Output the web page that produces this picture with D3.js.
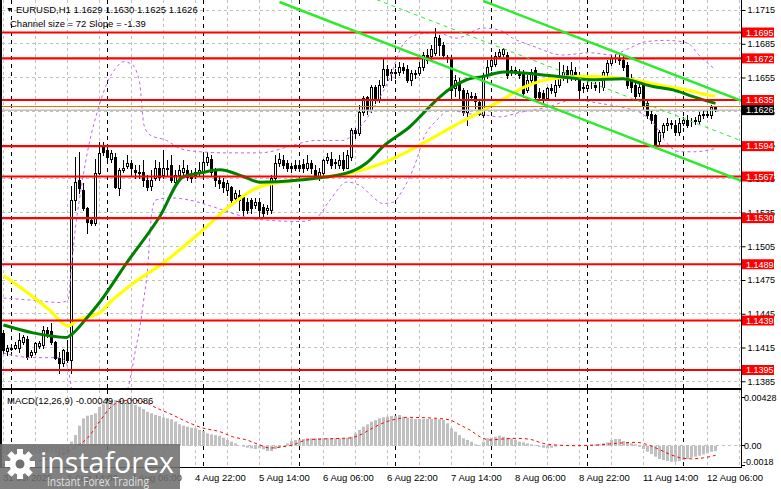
<!DOCTYPE html>
<html><head><meta charset="utf-8">
<script src="https://cdn.jsdelivr.net/npm/d3@7"></script>
<style>
html,body{margin:0;padding:0;background:#fff}
svg{display:block;font-family:"Liberation Sans",Arial,sans-serif}
</style>
</head><body>
<svg id="c" width="781" height="489"></svg>
<script>
// ---------------- DATA ----------------
const symbolTitle = "EURUSD,H1";
const channelText = "Channel size = 72 Slope = -1.39";
const open = [1.1428,1.1412,1.1414,1.1415,1.1415,1.1420,1.1423,1.1408,1.1411,1.1416,
1.1417,1.1431,1.1430,1.1420,1.1406,1.1401,1.1411,1.1404,1.1546,1.1564,
1.1555,1.1539,1.1528,1.1526,1.1570,1.1595,1.1591,1.1583,1.1584,1.1557,
1.1573,1.1576,1.1579,1.1573,1.1571,1.1571,1.1564,1.1559,1.1566,1.1575,
1.1568,1.1575,1.1577,1.1562,1.1568,1.1571,1.1573,1.1567,1.1568,1.1571,
1.1571,1.1580,1.1583,1.1573,1.1564,1.1562,1.1555,1.1558,1.1548,1.1551,
1.1549,1.1544,1.1546,1.1542,1.1544,1.1540,1.1537,1.1537,1.1566,1.1579,
1.1582,1.1579,1.1576,1.1577,1.1577,1.1578,1.1575,1.1579,1.1573,1.1567,
1.1570,1.1582,1.1583,1.1580,1.1577,1.1582,1.1575,1.1584,1.1608,1.1606,
1.1624,1.1638,1.1626,1.1647,1.1635,1.1648,1.1663,1.1659,1.1659,1.1660,
1.1664,1.1663,1.1653,1.1658,1.1659,1.1664,1.1675,1.1674,1.1677,1.1690,
1.1684,1.1673,1.1672,1.1646,1.1650,1.1644,1.1624,1.1639,1.1639,1.1633,
1.1622,1.1657,1.1665,1.1667,1.1674,1.1676,1.1675,1.1660,1.1661,1.1660,
1.1660,1.1644,1.1653,1.1662,1.1642,1.1641,1.1637,1.1646,1.1642,1.1648,
1.1655,1.1662,1.1655,1.1660,1.1655,1.1646,1.1646,1.1648,1.1648,1.1647,
1.1647,1.1660,1.1668,1.1672,1.1672,1.1671,1.1666,1.1655,1.1648,1.1641,
1.1648,1.1632,1.1623,1.1622,1.1599,1.1607,1.1613,1.1614,1.1613,1.1607,
1.1615,1.1617,1.1615,1.1616,1.1616,1.1622,1.1622,1.1622,1.1629];
const high = [1.1431,1.1417,1.1417,1.1420,1.1428,1.1426,1.1425,1.1413,1.1420,1.1421,
1.1434,1.1433,1.1437,1.1421,1.1411,1.1414,1.1422,1.1559,1.1584,1.1589,
1.1561,1.1540,1.1530,1.1583,1.1598,1.1598,1.1595,1.1591,1.1588,1.1575,
1.1582,1.1586,1.1582,1.1577,1.1577,1.1582,1.1568,1.1573,1.1582,1.1580,
1.1591,1.1582,1.1586,1.1573,1.1577,1.1582,1.1577,1.1573,1.1575,1.1580,
1.1586,1.1589,1.1586,1.1575,1.1567,1.1566,1.1564,1.1559,1.1555,1.1555,
1.1551,1.1548,1.1548,1.1548,1.1548,1.1543,1.1542,1.1568,1.1586,1.1588,
1.1586,1.1582,1.1579,1.1582,1.1580,1.1583,1.1586,1.1582,1.1577,1.1575,
1.1583,1.1588,1.1589,1.1583,1.1586,1.1589,1.1591,1.1610,1.1610,1.1631,
1.1639,1.1639,1.1648,1.1648,1.1653,1.1672,1.1666,1.1663,1.1663,1.1669,
1.1668,1.1666,1.1662,1.1662,1.1669,1.1678,1.1680,1.1684,1.1699,1.1693,
1.1687,1.1675,1.1675,1.1657,1.1655,1.1646,1.1644,1.1642,1.1641,1.1635,
1.1659,1.1671,1.1675,1.1678,1.1680,1.1681,1.1678,1.1665,1.1664,1.1663,
1.1662,1.1657,1.1663,1.1664,1.1646,1.1644,1.1647,1.1649,1.1653,1.1669,
1.1666,1.1665,1.1669,1.1664,1.1660,1.1650,1.1653,1.1651,1.1651,1.1651,
1.1662,1.1671,1.1675,1.1676,1.1675,1.1674,1.1669,1.1658,1.1650,1.1649,
1.1651,1.1635,1.1626,1.1623,1.1608,1.1615,1.1619,1.1617,1.1617,1.1619,
1.1620,1.1622,1.1619,1.1620,1.1624,1.1626,1.1626,1.1631,1.1630];
const low = [1.1410,1.1408,1.1413,1.1414,1.1411,1.1418,1.1405,1.1407,1.1409,1.1415,
1.1415,1.1424,1.1418,1.1405,1.1392,1.1399,1.1402,1.1392,1.1537,1.1552,
1.1537,1.1517,1.1524,1.1524,1.1569,1.1586,1.1582,1.1580,1.1557,1.1551,
1.1571,1.1575,1.1568,1.1566,1.1566,1.1559,1.1555,1.1555,1.1564,1.1564,
1.1566,1.1568,1.1562,1.1559,1.1566,1.1568,1.1564,1.1562,1.1566,1.1568,
1.1568,1.1577,1.1568,1.1559,1.1557,1.1553,1.1551,1.1542,1.1544,1.1537,
1.1533,1.1535,1.1535,1.1539,1.1530,1.1532,1.1534,1.1535,1.1564,1.1576,
1.1575,1.1572,1.1571,1.1573,1.1572,1.1571,1.1573,1.1570,1.1566,1.1564,
1.1567,1.1579,1.1575,1.1575,1.1575,1.1573,1.1575,1.1582,1.1601,1.1604,
1.1622,1.1623,1.1624,1.1632,1.1633,1.1647,1.1653,1.1653,1.1655,1.1657,
1.1659,1.1651,1.1648,1.1655,1.1657,1.1662,1.1668,1.1671,1.1675,1.1675,
1.1672,1.1669,1.1635,1.1639,1.1637,1.1622,1.1613,1.1635,1.1628,1.1622,
1.1620,1.1655,1.1662,1.1665,1.1672,1.1674,1.1655,1.1657,1.1658,1.1655,
1.1638,1.1642,1.1651,1.1635,1.1635,1.1632,1.1635,1.1641,1.1639,1.1647,
1.1653,1.1651,1.1653,1.1653,1.1637,1.1642,1.1644,1.1646,1.1644,1.1642,
1.1644,1.1657,1.1666,1.1669,1.1667,1.1662,1.1646,1.1642,1.1635,1.1639,
1.1626,1.1619,1.1615,1.1592,1.1594,1.1602,1.1608,1.1610,1.1604,1.1604,
1.1613,1.1611,1.1612,1.1614,1.1615,1.1619,1.1620,1.1619,1.1625];
const close = [1.1413,1.1415,1.1415,1.1417,1.1422,1.1424,1.1407,1.1411,1.1419,1.1419,
1.1431,1.1428,1.1420,1.1406,1.1401,1.1413,1.1404,1.1546,1.1562,1.1557,
1.1539,1.1527,1.1526,1.1570,1.1588,1.1589,1.1584,1.1588,1.1558,1.1573,
1.1575,1.1579,1.1575,1.1571,1.1570,1.1564,1.1558,1.1564,1.1575,1.1567,
1.1575,1.1574,1.1564,1.1568,1.1573,1.1575,1.1567,1.1566,1.1571,1.1573,
1.1580,1.1584,1.1571,1.1564,1.1561,1.1558,1.1561,1.1546,1.1552,1.1546,
1.1537,1.1537,1.1539,1.1544,1.1537,1.1535,1.1539,1.1566,1.1579,1.1583,
1.1577,1.1575,1.1575,1.1575,1.1575,1.1575,1.1579,1.1575,1.1568,1.1571,
1.1582,1.1584,1.1577,1.1579,1.1582,1.1575,1.1586,1.1608,1.1606,1.1624,
1.1637,1.1626,1.1647,1.1635,1.1648,1.1663,1.1657,1.1660,1.1660,1.1664,
1.1662,1.1653,1.1659,1.1659,1.1664,1.1675,1.1671,1.1680,1.1691,1.1684,
1.1675,1.1672,1.1644,1.1653,1.1644,1.1624,1.1641,1.1638,1.1634,1.1623,
1.1657,1.1664,1.1671,1.1674,1.1678,1.1680,1.1657,1.1662,1.1662,1.1657,
1.1641,1.1653,1.1660,1.1638,1.1638,1.1635,1.1646,1.1644,1.1648,1.1655,
1.1660,1.1655,1.1662,1.1655,1.1644,1.1647,1.1648,1.1648,1.1647,1.1647,
1.1660,1.1668,1.1672,1.1672,1.1671,1.1664,1.1648,1.1647,1.1639,1.1647,
1.1631,1.1622,1.1617,1.1593,1.1607,1.1613,1.1615,1.1615,1.1607,1.1615,
1.1617,1.1613,1.1615,1.1617,1.1622,1.1623,1.1623,1.1629,1.1626];

// moving averages: [bar index, price]
const maGreen = [[0,1.1435],[7.4,1.1428],[15.75,1.1424],[16.8,1.1426],[20.75,1.1441],[24,1.1455],[30.75,1.1490],[39,1.1531],[45,1.1567],[49,1.1570],[54,1.1573],[60,1.1567],[64,1.1562],[74,1.1564],[85.75,1.1570],[90.75,1.1579],[95,1.1594],[101.5,1.1611],[108.25,1.1635],[111.6,1.1645],[115.75,1.1653],[120,1.1656],[125,1.1660],[130,1.1659],[135.75,1.1657],[140.75,1.1655],[146.6,1.1653],[154.9,1.1654],[158.25,1.1651],[162.4,1.1647],[167.4,1.1644],[172.4,1.1638],[178,1.1632]];
const maYellow = [[0,1.1479],[7.4,1.1460],[11.6,1.1448],[16.15,1.1434],[18.25,1.1439],[24.1,1.1446],[26.6,1.1455],[32.4,1.1472],[39.9,1.1490],[49.1,1.1517],[57.4,1.1543],[64.1,1.1558],[74.1,1.1564],[86.6,1.1570],[94.9,1.1579],[104.1,1.1595],[111.6,1.1610],[120,1.1626],[124.1,1.1634],[129.9,1.1646],[135.75,1.1653],[144.1,1.1656],[152.4,1.1655],[157.4,1.1653],[164.1,1.1648],[170.75,1.1644],[177.4,1.1639],[178,1.1639]];
const bandUpper = [[0,1.1459],[7.3,1.1457],[14.1,1.1455],[16.1,1.1457],[17,1.1487],[18,1.1522],[19,1.1547],[21,1.1589],[24,1.1631],[26,1.1651],[28,1.1663],[30,1.1669],[32,1.1667],[34,1.1651],[35.1,1.1613],[36.6,1.1604],[40.8,1.1599],[44.1,1.1592],[49.1,1.1589],[56.6,1.1588],[64.1,1.1588],[66.6,1.1589],[71.6,1.1594],[78.1,1.1599],[84.8,1.1599],[89.1,1.1611],[93.25,1.1632],[96.6,1.1655],[99.8,1.1684],[103.25,1.1693],[108.25,1.1695],[113.25,1.1690],[119.8,1.1699],[124.1,1.1697],[127.3,1.1690],[132.3,1.1683],[139.8,1.1675],[146.6,1.1677],[152.3,1.1675],[155.8,1.1680],[160.8,1.1687],[165.8,1.1688],[170.8,1.1686],[174.1,1.1674],[178,1.1662]];
const bandLower = [[0,1.1410],[7.3,1.1406],[14.1,1.1406],[15.6,1.1402],[16.6,1.1388],[17.3,1.1373],[30.3,1.1373],[32,1.1393],[33,1.1413],[34,1.1431],[35,1.1456],[36,1.1484],[37,1.1533],[38,1.1546],[41.6,1.1548],[46.6,1.1546],[51.6,1.1541],[56.6,1.1535],[61.6,1.1530],[66.6,1.1528],[74.1,1.1527],[78.1,1.1530],[81.6,1.1546],[85.8,1.1562],[89.1,1.1559],[92.3,1.1549],[94.8,1.1543],[97.3,1.1544],[99.8,1.1555],[103.3,1.1582],[104.8,1.1599],[108.3,1.1617],[111.6,1.1626],[115.8,1.1623],[119.8,1.1622],[124.1,1.1620],[129.1,1.1624],[135.3,1.1628],[142.8,1.1635],[149.1,1.1632],[155.3,1.1628],[159.1,1.1624],[162.8,1.1613],[165.3,1.1599],[169.1,1.1589],[172.8,1.1589],[178,1.1592]];

// regression channel (bar index, price) and level lines
const channelUpper = [[120,1.1723],[185,1.16336]];
const channelLower = [[69,1.17221],[185,1.15624]];
const levels = [1.1695,1.1672,1.1635,1.1594,1.1567,1.1530,1.1489,1.1439,1.1395];
const askPrice = 1.1629;
const bidPrice = 1.1626;

// MACD(12,26,9): main (histogram) per bar and signal read at points
const macdMain = [-0.0007,-0.0008,-0.0008,-0.0008,-0.0007,-0.0007,-0.0007,-0.0008,-0.0007,-0.0007,-0.0006,-0.0006,-0.0006,-0.0007,-0.0008,-0.0008,-0.0008,
0.00036,0.00095,0.00178,0.00244,0.00268,0.00274,0.00289,0.00348,0.00378,0.00393,
0.00408,0.00408,0.00414,0.00408,0.00393,0.00378,0.00363,0.00348,0.00327,0.00303,
0.00289,0.00274,0.00265,0.00253,0.00244,0.00235,0.00214,0.00191,0.00178,0.0017,
0.0016,0.00155,0.0014,0.00131,0.0011,0.00101,0.00095,0.00089,0.00071,0.00051,
0.00036,0.00021,0.00002,-0.00009,-0.00018,-0.00024,-0.0003,-0.00024,-0.00033,-0.00048,
-0.00048,-0.0003,-0.00018,0.00002,0.00021,0.00042,0.00051,0.00057,0.0006,0.00066,
0.00066,0.00066,0.00066,0.00066,0.00066,0.00066,0.00066,0.00066,0.00066,0.00071,
0.0008,0.0011,0.0014,0.0017,0.0019,0.00214,0.00229,0.00244,0.00253,0.00259,
0.00265,0.00268,0.00274,0.00259,0.0025,0.00244,0.00238,0.00238,0.00238,0.00238,
0.00238,0.00238,0.00235,0.00229,0.002,0.00155,0.00125,0.00095,0.00066,0.00051,
0.00036,0.00012,0.00006,0.00036,0.00066,0.00071,0.0008,0.00089,0.0008,0.00071,
0.00066,0.00051,0.00036,0.0003,0.00021,0.00012,0.00006,-0.00009,-0.00018,-0.00024,
-0.00018,-0.00009,-0.00003,0,0.00006,0,0,0,0,0.00006,
0.00012,0.00012,0.00012,0.00021,0.0003,0.00051,0.0006,0.0006,0.00042,0.0003,
0.00021,0.00012,-0.00009,-0.0003,-0.00054,-0.00074,-0.00098,-0.00119,-0.00128,-0.00137,
-0.00143,-0.00143,-0.00137,-0.00128,-0.00119,-0.00107,-0.00098,-0.00089,-0.00077,-0.00068,
-0.00054,-0.00049];
const macdSignal = [[0,-0.0017],[10,-0.00128],[16,-0.00056],[18,-0.00012],[21,0.00069],[24,0.00214],[26.6,0.00336],[29,0.00392],[32,0.00407],[35,0.00392],[38.3,0.00336],[42.3,0.00274],[45.8,0.00214],[49.8,0.00158],[54.1,0.00125],[57.3,0.0008],[60.8,0.00051],[64.1,0.00006],[66.6,-0.00021],[69.8,-0.00009],[72.3,0.00006],[75.8,0.00051],[79.8,0.0006],[86.6,0.00069],[89.1,0.00095],[92.3,0.00158],[95.75,0.00214],[99.1,0.00244],[100.75,0.00253],[108.25,0.00244],[111.6,0.00229],[114.1,0.00185],[116.6,0.0014],[119.1,0.0008],[121.6,0.00051],[124.8,0.0006],[128.25,0.00066],[131.6,0.00057],[134.9,0.00021],[138.25,0.00006],[143.25,0],[148.25,0.00006],[153.25,0.00021],[158.25,0.0003],[160.75,0.00012],[163.25,-0.00023],[166.6,-0.00077],[169.1,-0.00107],[172,-0.00117],[175,-0.00108],[178,-0.00086]];
const macdAxisLabels = ["0.00428","0.00","-0.0018"];
const macdAxisValues = [0.00428,0,-0.0018];

// time axis
const timeLabels = ["31 Jul 2025","1 Aug 14:00","4 Aug 06:00","4 Aug 22:00","5 Aug 14:00","6 Aug 06:00","6 Aug 22:00","7 Aug 14:00","8 Aug 06:00","8 Aug 22:00","11 Aug 14:00","12 Aug 06:00"];
const timeLabelBars = [0,16,32,48,64,80,96,112,128,144,160,176];
const daySeparatorBars = [2,26,50,74,98,122,146,170];
const priceTicks = [1.1385,1.1415,1.1445,1.1475,1.1505,1.1535,1.1565,1.1595,1.1625,1.1655,1.1685,1.1715];

// ---------------- LAYOUT ----------------
const PL = 2, PR = 741, PT = 0, PB = 388, MT = 390, MB = 467;
const svg = d3.select("#c");
const x = d3.scaleLinear().domain([0,178]).range([3.5,715.5]);
const y = d3.scaleLinear().domain([1.1379,1.17239]).range([PB,PT]);
const ym = d3.scaleLinear().domain([-0.0019,0.00488]).range([MB,MT+1]);
const snap = v => Math.round(v - 0.5) + 0.5;

const defs = svg.append("defs");
defs.append("clipPath").attr("id","cm").append("rect").attr("x",PL).attr("y",PT).attr("width",PR-PL).attr("height",PB-PT);
defs.append("clipPath").attr("id","cmacd").append("rect").attr("x",PL).attr("y",MT).attr("width",PR-PL).attr("height",MB-MT);

const gm = svg.append("g").attr("clip-path","url(#cm)");
const gd = svg.append("g").attr("clip-path","url(#cmacd)");

// grid
const gridBars = d3.range(0,186,8);
[[gm,PT,PB],[gd,MT,MB]].forEach(([g,t,b])=>{
  g.append("g").selectAll("line").data(gridBars).join("line")
    .attr("x1",d=>x(d)).attr("x2",d=>x(d)).attr("y1",t).attr("y2",b)
    .attr("stroke","#c0c0c0").attr("stroke-dasharray","3,3");
  g.append("g").selectAll("line").data(daySeparatorBars).join("line")
    .attr("x1",d=>x(d)).attr("x2",d=>x(d)).attr("y1",t).attr("y2",b)
    .attr("stroke","#000").attr("stroke-dasharray","4,4");
});
gm.append("g").selectAll("line").data(priceTicks).join("line")
  .attr("x1",PL).attr("x2",PR).attr("y1",d=>snap(y(d))).attr("y2",d=>snap(y(d)))
  .attr("stroke","#c0c0c0").attr("stroke-dasharray","3,3");
gd.append("line").attr("x1",PL).attr("x2",PR).attr("y1",snap(ym(0))).attr("y2",snap(ym(0)))
  .attr("stroke","#c0c0c0").attr("stroke-dasharray","3,3");

// candles
const bars = d3.range(open.length).map(i=>({i,o:open[i],h:high[i],l:low[i],c:close[i]}));
const gc = gm.append("g");
gc.selectAll("line").data(bars).join("line")
  .attr("x1",d=>x(d.i)).attr("x2",d=>x(d.i))
  .attr("y1",d=>Math.round(y(d.h))).attr("y2",d=>Math.round(y(d.l))+1)
  .attr("stroke","#000").attr("stroke-width",1);
gc.selectAll("rect").data(bars).join("rect")
  .attr("x",d=>x(d.i)-1).attr("width",2)
  .attr("y",d=>Math.round(y(Math.max(d.o,d.c)))+0.5)
  .attr("height",d=>Math.max(0,Math.round(y(Math.min(d.o,d.c)))-Math.round(y(Math.max(d.o,d.c)))))
  .attr("fill",d=>d.c>=d.o?"#fff":"#000").attr("stroke","#000").attr("stroke-width",1);

// indicators
const line = d3.line().x(d=>x(d[0])).y(d=>y(d[1])).curve(d3.curveMonotoneX);
[bandUpper,bandLower].forEach(b=>gm.append("path").attr("d",line(b)).attr("fill","none")
  .attr("stroke","#c063e8").attr("stroke-width",1).attr("stroke-dasharray","3,3"));
gm.append("path").attr("d",line(maYellow)).attr("fill","none").attr("stroke","#ffff00").attr("stroke-width",3.2);
gm.append("path").attr("d",line(maGreen)).attr("fill","none").attr("stroke","#008000").attr("stroke-width",3);

// levels
gm.append("g").selectAll("line").data(levels).join("line")
  .attr("x1",PL).attr("x2",PR).attr("y1",d=>y(d)).attr("y2",d=>y(d))
  .attr("stroke","#ff0000").attr("stroke-width",2.2);
gm.append("line").attr("x1",PL).attr("x2",PR).attr("y1",snap(y(askPrice))).attr("y2",snap(y(askPrice)))
  .attr("stroke","#ff6a00").attr("stroke-width",1);
gm.append("line").attr("x1",PL).attr("x2",PR).attr("y1",y(bidPrice)).attr("y2",y(bidPrice))
  .attr("stroke","#c0c0c0").attr("stroke-width",1.5);

// channel (upper and lower lines, dashed mid line halfway between them)
const straight = d3.line().x(d=>x(d[0])).y(d=>y(d[1]));
const lowerAt = k => channelLower[0][1] + (channelLower[1][1]-channelLower[0][1])*(k-channelLower[0][0])/(channelLower[1][0]-channelLower[0][0]);
const upperAt = k => channelUpper[0][1] + (channelUpper[1][1]-channelUpper[0][1])*(k-channelUpper[0][0])/(channelUpper[1][0]-channelUpper[0][0]);
const midLine = [channelLower[0][0], channelUpper[1][0]].map(k=>[k,(lowerAt(k)+upperAt(k))/2]);
gm.append("path").attr("d",straight(channelUpper)).attr("stroke","#2eea2e").attr("stroke-width",2.5).attr("fill","none");
gm.append("path").attr("d",straight(channelLower)).attr("stroke","#2eea2e").attr("stroke-width",2.5).attr("fill","none");
gm.append("path").attr("d",straight(midLine)).attr("stroke","#2eea2e").attr("stroke-width",1).attr("stroke-dasharray","4,4").attr("fill","none");

// MACD
gd.append("g").selectAll("rect").data(macdMain.map((v,i)=>({i,v}))).join("rect")
  .attr("x",d=>x(d.i)-1.5).attr("width",3)
  .attr("y",d=>Math.min(ym(d.v),ym(0))).attr("height",d=>Math.abs(ym(d.v)-ym(0)))
  .attr("fill","#c0c0c0");
const mline = d3.line().x(d=>x(d[0])).y(d=>ym(d[1])).curve(d3.curveMonotoneX);
gd.append("path").attr("d",mline(macdSignal)).attr("fill","none").attr("stroke","#ff0000").attr("stroke-width",1).attr("stroke-dasharray","3,3");

// frames
const fr = svg.append("g").attr("stroke","#000").attr("fill","none");
fr.append("line").attr("x1",1).attr("x2",1).attr("y1",0).attr("y2",MB+1).attr("stroke-width",2);
fr.append("line").attr("x1",PR+0.5).attr("x2",PR+0.5).attr("y1",0).attr("y2",MB+1);
fr.append("line").attr("x1",0).attr("x2",PR+1).attr("y1",PB+1).attr("y2",PB+1).attr("stroke-width",2);
fr.append("line").attr("x1",0).attr("x2",PR+1).attr("y1",MB+0.5).attr("y2",MB+0.5);

// price axis
const ax = svg.append("g").attr("transform",`translate(${PR+0.5},0)`)
  .call(d3.axisRight(y).tickValues(priceTicks).tickSize(4).tickPadding(2).tickFormat(d3.format(".4f")));
ax.select(".domain").remove();
ax.selectAll("text").attr("font-size","9px").attr("font-family","Liberation Sans, Arial, sans-serif").attr("fill","#000");
ax.selectAll("line").attr("stroke","#000");

// level tags
const tag = (p,fill,label)=>{
  const g = svg.append("g");
  g.append("rect").attr("x",PR+1).attr("y",y(p)-5).attr("width",32).attr("height",10).attr("fill",fill);
  g.append("text").attr("x",PR+5).attr("y",y(p)+3.3).attr("font-size","9px").attr("fill","#fff").text(label);
};
levels.forEach(l=>tag(l,"#ff0000",l.toFixed(4)));
tag(bidPrice,"#000",bidPrice.toFixed(4));

// MACD axis labels
const mg = svg.append("g");
macdAxisValues.forEach((v,i)=>{
  const yy = Math.min(ym(v), 461.7);
  mg.append("line").attr("x1",PR).attr("x2",PR+4).attr("y1",snap(ym(v))).attr("y2",snap(ym(v))).attr("stroke","#000");
  mg.append("text").attr("x",PR+(v<0?2:3)).attr("y",yy+3.3).attr("font-size","9px").attr("fill","#000").text(macdAxisLabels[i]);
});

// time axis
const tx = svg.append("g").attr("transform",`translate(0,${MB})`)
  .call(d3.axisBottom(x).tickValues(timeLabelBars).tickSize(0).tickPadding(7.5).tickFormat((d,i)=>timeLabels[i]));
tx.select(".domain").remove();
tx.selectAll("text").attr("text-anchor","start").attr("dx","-1").attr("font-size","9.5px").attr("font-family","Liberation Sans, Arial, sans-serif").attr("fill","#000");

// titles
const n = open.length-1;
svg.append("text").attr("x",6).attr("y",12).attr("font-size","7px").text("\u25BC");
svg.append("text").attr("x",16).attr("y",13).attr("font-size","9.5px").attr("fill","#000")
  .text(`${symbolTitle}  ${open[n].toFixed(4)} ${high[n].toFixed(4)} ${low[n].toFixed(4)} ${close[n].toFixed(4)}`);
svg.append("text").attr("x",10).attr("y",27).attr("font-size","9.5px").attr("fill","#000").text(channelText);
svg.append("text").attr("x",7).attr("y",404).attr("font-size","9.5px").attr("fill","#000")
  .text(`MACD(12,26,9) ${macdMain[n].toFixed(5)} ${macdSignal[macdSignal.length-1][1].toFixed(5)}`);

// watermark
const wm = svg.append("g");
wm.append("rect").attr("x",0).attr("y",444).attr("width",180).attr("height",45).attr("fill","#707070").attr("opacity",0.88);
const gear = wm.append("g").attr("transform","translate(20,464)");
gear.selectAll("rect").data(d3.range(8)).join("rect")
  .attr("x",-3).attr("y",-15).attr("width",6).attr("height",8).attr("fill","#fff")
  .attr("transform",d=>`rotate(${d*45})`);
gear.append("circle").attr("r",10.5).attr("fill","#fff");
gear.append("circle").attr("r",4.5).attr("fill","#707070");
wm.append("text").attr("x",40).attr("y",473).attr("font-size","29px").attr("font-family","Open Sans, sans-serif")
  .attr("fill","#fff").attr("textLength",134).attr("lengthAdjust","spacingAndGlyphs").text("instaforex");
wm.append("text").attr("x",47).attr("y",486).attr("font-size","12px").attr("font-family","Open Sans, sans-serif")
  .attr("fill","#e0e0e0").attr("textLength",102).attr("lengthAdjust","spacingAndGlyphs").text("Instant Forex Trading");
</script>
</body></html>
